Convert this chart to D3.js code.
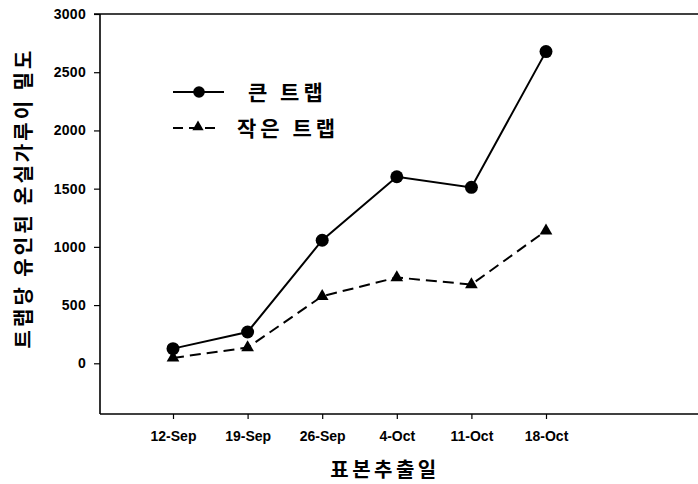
<!DOCTYPE html>
<html><head><meta charset="utf-8">
<script src="https://cdn.jsdelivr.net/npm/d3@7"></script>
<style>
html,body{margin:0;padding:0;background:#fff;}
svg{display:block;}
.tick text{font-family:"Liberation Sans",Arial,sans-serif;font-weight:bold;font-size:14px;fill:#000;}
.kr{font-family:"Noto Sans CJK KR",sans-serif;font-weight:bold;fill:#000;}
</style></head>
<body>
<script>
const tickLabels = ["12-Sep","19-Sep","26-Sep","4-Oct","11-Oct","18-Oct"];
const bigTrap = [126, 269, 1057, 1602, 1511, 2677];
const smallTrap = [46, 135, 576, 737, 677, 1138];
const yTicks = [0, 500, 1000, 1500, 2000, 2500, 3000];
const seriesNames = ["큰 트랩", "작은 트랩"];
const xTitle = "표본추출일";
const yTitle = "트랩당 유인된 온실가루이 밀도";

const W = 698, H = 484;
const pLeft = 100, pRight = 698, pTop = 14, pBottom = 414;

const x = d3.scalePoint().domain(tickLabels).range([173, 546]);
const y = d3.scaleLinear().domain([0, 3000]).range([363.3, 14]);

const svg = d3.select("body").append("svg").attr("width", W).attr("height", H);

// axes
const yAxis = d3.axisLeft(y).tickValues(yTicks).tickSize(6).tickPadding(8).tickFormat(d3.format("d"));
const gy = svg.append("g").attr("transform", `translate(${pLeft},0)`).call(yAxis);
gy.select(".domain").remove();
gy.selectAll(".tick line").attr("stroke", "#000").attr("stroke-width", 1.2);
gy.selectAll(".tick text").attr("font-size", 15).attr("letter-spacing", "0.3px");

const xAxis = d3.axisBottom(x).tickSize(5).tickPadding(12);
const gx = svg.append("g").attr("transform", `translate(0,${pBottom})`).call(xAxis);
gx.select(".domain").remove();
gx.selectAll(".tick line").attr("stroke", "#000").attr("stroke-width", 1.2);

// frame lines
svg.append("line").attr("x1", pLeft).attr("x2", pRight).attr("y1", pBottom).attr("y2", pBottom)
  .attr("stroke", "#000").attr("stroke-width", 1.6);
svg.append("line").attr("x1", pLeft).attr("x2", pLeft).attr("y1", pTop).attr("y2", pBottom)
  .attr("stroke", "#000").attr("stroke-width", 1.6);
svg.append("line").attr("x1", pLeft - 6).attr("x2", pRight).attr("y1", pTop).attr("y2", pTop)
  .attr("stroke", "#000").attr("stroke-width", 1.6);

const line = d3.line().x((d, i) => x(tickLabels[i])).y(d => y(d));

svg.append("path").datum(smallTrap).attr("d", line).attr("fill", "none")
  .attr("stroke", "#000").attr("stroke-width", 2).attr("stroke-dasharray", "11,6");
svg.append("path").datum(bigTrap).attr("d", line).attr("fill", "none")
  .attr("stroke", "#000").attr("stroke-width", 2);

const tri = d3.symbol().type(d3.symbolTriangle).size(70);
svg.selectAll(".tri").data(smallTrap).enter().append("path")
  .attr("d", tri).attr("transform", (d, i) => `translate(${x(tickLabels[i])},${y(d)})`).attr("fill", "#000");
svg.selectAll(".dot").data(bigTrap).enter().append("circle")
  .attr("cx", (d, i) => x(tickLabels[i])).attr("cy", d => y(d)).attr("r", 6.5).attr("fill", "#000");

// legend
const lg = svg.append("g");
lg.append("line").attr("x1", 173).attr("x2", 224).attr("y1", 92).attr("y2", 92).attr("stroke", "#000").attr("stroke-width", 2);
lg.append("circle").attr("cx", 199).attr("cy", 92).attr("r", 5.8).attr("fill", "#000");
lg.append("line").attr("x1", 173).attr("x2", 219).attr("y1", 128).attr("y2", 128).attr("stroke", "#000").attr("stroke-width", 2).attr("stroke-dasharray", "10,6");
lg.append("path").attr("d", d3.symbol().type(d3.symbolTriangle).size(55)).attr("transform", "translate(198,127)").attr("fill", "#000");
lg.append("text").attr("class", "kr").attr("x", 248).attr("y", 100).attr("font-size", 21).attr("letter-spacing", "4px").text(seriesNames[0]);
lg.append("text").attr("class", "kr").attr("x", 237).attr("y", 136).attr("font-size", 21).attr("letter-spacing", "4px").text(seriesNames[1]);

// titles
svg.append("text").attr("class", "kr").attr("x", 385).attr("y", 477).attr("text-anchor", "middle")
  .attr("font-size", 20).attr("letter-spacing", "3.5px").text(xTitle);
svg.append("text").attr("class", "kr").attr("transform", "translate(31,198) rotate(-90)")
  .attr("text-anchor", "middle").attr("font-size", 20).attr("letter-spacing", "3px").text(yTitle);
</script>
</body></html>
